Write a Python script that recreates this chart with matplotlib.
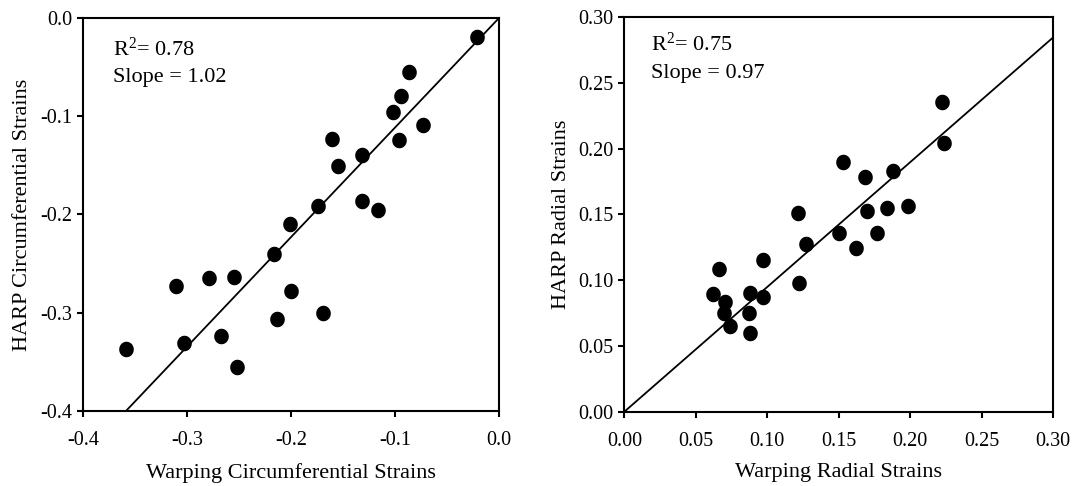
import numpy as np
import matplotlib
matplotlib.use("Agg")
import matplotlib.pyplot as plt
from matplotlib.path import Path

plt.rcParams['font.family'] = ['Liberation Serif', 'DejaVu Serif']
plt.rcParams['mathtext.fontset'] = 'custom'
plt.rcParams['mathtext.rm'] = 'Liberation Serif'
plt.rcParams['mathtext.it'] = 'Liberation Serif'

# ---- Left panel data: circumferential strains ----
circ_warping = [-0.0215, -0.0865, -0.0942, -0.1016, -0.0734, -0.0965, -0.161, -0.132,
                -0.1545, -0.1737, -0.201, -0.132, -0.116, -0.2163, -0.2785, -0.2548,
                -0.311, -0.2003, -0.2137, -0.1695, -0.267, -0.303, -0.3589, -0.2516]
circ_harp = [-0.019, -0.0546, -0.079, -0.096, -0.109, -0.124, -0.123, -0.139,
             -0.1506, -0.191, -0.2097, -0.186, -0.1954, -0.2405, -0.265, -0.264,
             -0.2728, -0.278, -0.306, -0.3006, -0.3233, -0.331, -0.337, -0.355]
circ_fit_x = [-0.3587, 0.0]
circ_fit_y = [-0.4, 0.0]
circ_r2 = "0.78"
circ_slope = "1.02"
circ_ticks = [-0.4, -0.3, -0.2, -0.1, 0.0]

# ---- Right panel data: radial strains ----
rad_warping = [0.222, 0.2236, 0.1527, 0.1683, 0.1877, 0.1217, 0.1699, 0.1835,
               0.1986, 0.1499, 0.1769, 0.1268, 0.162, 0.0972, 0.066, 0.1222,
               0.0618, 0.0879, 0.0968, 0.0702, 0.0697, 0.0874, 0.0739, 0.0881]
rad_harp = [0.2353, 0.2046, 0.1897, 0.1788, 0.1833, 0.1514, 0.1527, 0.1552,
            0.1565, 0.1362, 0.1362, 0.1273, 0.1247, 0.1154, 0.1083, 0.0981,
            0.0893, 0.0905, 0.0875, 0.0837, 0.0748, 0.0748, 0.0652, 0.0596]
rad_fit_x = [0.0, 0.30]
rad_fit_y = [0.0, 0.2848]
rad_r2 = "0.75"
rad_slope = "0.97"
rad_ticks = [0.00, 0.05, 0.10, 0.15, 0.20, 0.25, 0.30]

# slightly tall elliptical dot marker
t = np.linspace(0, 2 * np.pi, 60)
ell = Path(np.column_stack([0.94 * np.cos(t), np.sin(t)]), closed=True)

fig = plt.figure(figsize=(10.75, 4.86), dpi=100)
axL = fig.add_axes([0.0772, 0.1543, 0.3870, 0.8087])
axR = fig.add_axes([0.5808, 0.1529, 0.3990, 0.8115])

def style(ax, ticks, fmt):
    for s in ax.spines.values():
        s.set_linewidth(1.5)
    ax.set_xticks(ticks)
    ax.set_yticks(ticks)
    ax.set_xticklabels([fmt.format(v) for v in ticks])
    ax.set_yticklabels([fmt.format(v) for v in ticks])
    ax.tick_params(direction='out', length=4, width=1.5, labelsize=14.5, pad=4)
    ax.tick_params(axis='x', pad=10.5)
    ax.set_xlim(ticks[0], ticks[-1])
    ax.set_ylim(ticks[0], ticks[-1])

# Left
axL.scatter(circ_warping, circ_harp, s=125, marker=ell, color='black', zorder=3, linewidths=0)
axL.plot(circ_fit_x, circ_fit_y, color='black', lw=1.3, zorder=2)
style(axL, circ_ticks, "{:.1f}")
axL.set_xlabel("Warping Circumferential Strains", fontsize=16, labelpad=9)
axL.set_ylabel("HARP Circumferential Strains", fontsize=16, labelpad=6)
axL.text(0.071, 0.904, r"R$^{\mathrm{2}}$= " + circ_r2, transform=axL.transAxes,
         fontsize=16, va='baseline', ha='left')
axL.text(0.071, 0.838, "Slope = " + circ_slope, transform=axL.transAxes,
         fontsize=16, va='baseline', ha='left')

# Right
axR.scatter(rad_warping, rad_harp, s=125, marker=ell, color='black', zorder=3, linewidths=0)
axR.plot(rad_fit_x, rad_fit_y, color='black', lw=1.3, zorder=2)
style(axR, rad_ticks, "{:.2f}")
axR.set_xlabel("Warping Radial Strains", fontsize=16, labelpad=9)
axR.set_ylabel("HARP Radial Strains", fontsize=16, labelpad=5)
axR.text(0.062, 0.915, r"R$^{\mathrm{2}}$= " + rad_r2, transform=axR.transAxes,
         fontsize=16, va='baseline', ha='left')
axR.text(0.062, 0.845, "Slope = " + rad_slope, transform=axR.transAxes,
         fontsize=16, va='baseline', ha='left')

fig.savefig("out.png", dpi=100)
